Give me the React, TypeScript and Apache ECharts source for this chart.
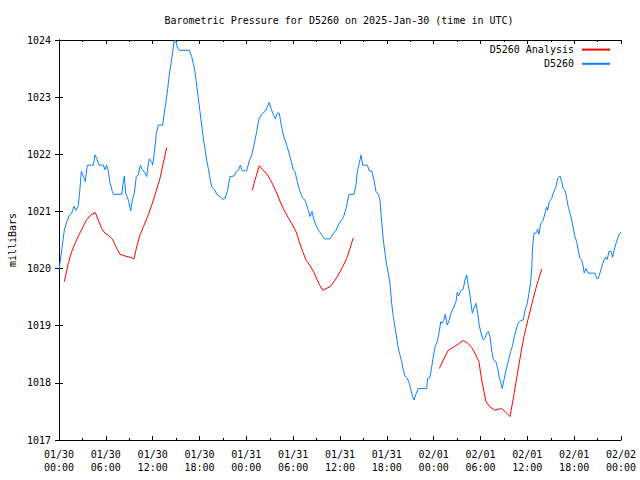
import React, { useEffect, useRef } from "react";
import * as echarts from "echarts";

// Hours since 2025-01-30 00:00 UTC
const stationTimes = [
  0.0, 0.35, 0.68, 0.99, 1.28, 1.63, 1.92, 2.18, 2.47, 2.69, 2.86, 3.04, 3.29, 3.37, 3.55, 3.63, 4.39, 4.61, 4.83, 5.12,
  5.68, 5.89, 6.11, 6.32, 6.53, 6.83, 6.96, 8.03, 8.24, 8.37, 8.54, 8.88, 9.19, 9.39, 9.65, 9.9, 10.16, 10.42, 10.67, 11.02,
  11.24, 11.36, 11.57, 11.88, 12.0, 12.17, 12.39, 12.43, 12.72, 13.28, 13.45, 13.71, 13.93, 14.13, 14.35, 14.57, 14.73, 14.9, 15.15, 15.41,
  16.69, 17.0, 17.2, 17.42, 17.64, 17.85, 18.06, 18.28, 18.49, 18.7, 18.92, 19.13, 19.34, 19.56, 19.98, 20.2, 20.63, 20.97, 21.27, 21.56,
  21.91, 22.42, 22.76, 23.02, 23.23, 23.48, 24.05, 24.34, 24.69, 24.98, 25.33, 25.46, 25.66, 25.97, 26.39, 26.69, 26.94, 27.16, 27.45, 27.71,
  27.97, 28.22, 28.44, 28.73, 29.17, 29.59, 30.02, 30.23, 30.53, 30.87, 31.22, 31.51, 31.73, 31.94, 32.16, 32.41, 32.67, 33.01, 33.35, 33.65,
  33.99, 34.72, 35.06, 35.49, 35.78, 36.09, 36.42, 36.77, 37.15, 37.79, 38.05, 38.21, 38.47, 38.69, 38.91, 39.5, 39.75, 40.06, 40.35, 40.61,
  40.9, 41.12, 41.34, 41.55, 41.76, 41.98, 42.19, 42.4, 42.62, 42.83, 43.04, 43.26, 43.47, 43.68, 43.9, 44.11, 44.32, 44.62, 44.88, 45.09,
  45.31, 45.48, 45.7, 46.03, 47.1, 47.23, 47.53, 47.75, 47.95, 48.17, 48.46, 48.72, 48.9, 49.06, 49.28, 49.49, 49.74, 50.0, 50.22, 50.51,
  50.86, 51.03, 51.16, 51.46, 51.79, 52.01, 52.23, 52.43, 52.65, 52.78, 52.95, 53.16, 53.42, 53.64, 53.84, 54.06, 54.36, 54.57, 54.79, 55.0,
  55.21, 55.43, 55.64, 55.98, 56.2, 56.4, 56.58, 56.79, 57.01, 57.23, 57.43, 57.65, 57.87, 58.12, 58.33, 58.55, 58.84, 59.15, 59.48, 59.7,
  59.99, 60.21, 60.43, 60.56, 60.68, 60.85, 61.11, 61.33, 61.49, 61.71, 61.97, 62.17, 62.48, 62.61, 62.81, 63.12, 63.32, 63.67, 63.89, 64.18,
  64.4, 64.6, 64.82, 65.04, 65.24, 65.46, 65.68, 65.89, 66.1, 66.32, 66.53, 66.74, 66.96, 67.17, 67.29, 67.51, 67.8, 68.66, 68.88, 69.09,
  69.3, 69.6, 69.82, 70.04, 70.24, 70.46, 70.71, 70.93, 71.1, 71.36, 71.57, 71.78, 72.0,
];
const stationPressure = [
  1019.98, 1020.32, 1020.67, 1020.82, 1020.92, 1020.97, 1021.09, 1021.02, 1021.1, 1021.4, 1021.7, 1021.64, 1021.57, 1021.52, 1021.73, 1021.81, 1021.81, 1021.99, 1021.93, 1021.81,
  1021.81, 1021.73, 1021.81, 1021.7, 1021.5, 1021.35, 1021.3, 1021.3, 1021.52, 1021.62, 1021.32, 1021.2, 1021.01, 1021.2, 1021.32, 1021.61, 1021.64, 1021.81, 1021.73, 1021.67,
  1021.61, 1021.76, 1021.92, 1021.87, 1021.81, 1021.99, 1022.25, 1022.34, 1022.51, 1022.51, 1022.69, 1022.92, 1023.15, 1023.39, 1023.59, 1023.8, 1023.97, 1024.0, 1023.88, 1023.82,
  1023.82, 1023.71, 1023.59, 1023.45, 1023.21, 1022.98, 1022.75, 1022.51, 1022.28, 1022.1, 1021.9, 1021.75, 1021.58, 1021.43, 1021.37, 1021.3, 1021.26, 1021.21, 1021.23, 1021.35,
  1021.61, 1021.62, 1021.71, 1021.73, 1021.81, 1021.71, 1021.71, 1021.87, 1021.99, 1022.16, 1022.4, 1022.51, 1022.63, 1022.7, 1022.75, 1022.83, 1022.91, 1022.8, 1022.7, 1022.62,
  1022.72, 1022.72, 1022.54, 1022.34, 1022.16, 1021.96, 1021.73, 1021.7, 1021.52, 1021.35, 1021.23, 1021.2, 1021.11, 1021.02, 1020.91, 1021.0, 1020.85, 1020.73, 1020.65, 1020.59,
  1020.52, 1020.52, 1020.6, 1020.67, 1020.76, 1020.83, 1020.89, 1021.05, 1021.3, 1021.3, 1021.46, 1021.7, 1021.84, 1021.99, 1021.81, 1021.81, 1021.71, 1021.71, 1021.55, 1021.35,
  1021.3, 1021.2, 1020.82, 1020.5, 1020.27, 1020.06, 1019.92, 1019.74, 1019.39, 1019.16, 1018.98, 1018.78, 1018.6, 1018.49, 1018.37, 1018.22, 1018.12, 1018.08, 1017.99, 1017.87,
  1017.76, 1017.7, 1017.79, 1017.9, 1017.9, 1018.08, 1018.1, 1018.28, 1018.46, 1018.63, 1018.72, 1018.9, 1019.07, 1019.04, 1019.09, 1019.2, 1019.01, 1019.1, 1019.22, 1019.3,
  1019.42, 1019.59, 1019.52, 1019.61, 1019.64, 1019.8, 1019.89, 1019.71, 1019.54, 1019.39, 1019.22, 1019.31, 1019.39, 1019.22, 1019.01, 1018.87, 1018.75, 1018.78, 1018.87, 1018.9,
  1018.81, 1018.57, 1018.41, 1018.37, 1018.25, 1018.1, 1018.02, 1017.9, 1018.05, 1018.2, 1018.31, 1018.43, 1018.55, 1018.66, 1018.81, 1018.92, 1019.05, 1019.09, 1019.1, 1019.27,
  1019.39, 1019.57, 1019.77, 1020.0, 1020.38, 1020.62, 1020.62, 1020.69, 1020.6, 1020.79, 1020.82, 1020.92, 1021.08, 1021.02, 1021.17, 1021.23, 1021.32, 1021.43, 1021.58, 1021.62,
  1021.52, 1021.4, 1021.37, 1021.23, 1021.08, 1020.97, 1020.85, 1020.7, 1020.56, 1020.47, 1020.32, 1020.18, 1020.15, 1020.03, 1019.92, 1020.0, 1019.92, 1019.92, 1019.83, 1019.83,
  1019.92, 1020.06, 1020.15, 1020.2, 1020.16, 1020.3, 1020.3, 1020.2, 1020.32, 1020.44, 1020.53, 1020.6, 1020.64,
];

// Analysis: three separate runs
const analysis1Times = [0.68, 1.19, 1.63, 2.05, 2.56, 3.11, 3.55, 4.1, 4.65, 5.03, 5.47, 5.89, 6.32, 6.83, 7.3, 7.81, 8.46, 9.1, 9.61, 9.95, 10.38, 10.8, 11.36, 11.88, 12.3, 12.94, 13.8];
const analysis1Pressure = [1019.77, 1020.09, 1020.3, 1020.44, 1020.59, 1020.74, 1020.86, 1020.94, 1020.98, 1020.85, 1020.7, 1020.62, 1020.58, 1020.52, 1020.38, 1020.25, 1020.22, 1020.2, 1020.17, 1020.38, 1020.59, 1020.73, 1020.91, 1021.11, 1021.29, 1021.58, 1022.12];
const analysis2Times = [24.76, 25.11, 25.66, 26.1, 26.52, 26.81, 27.25, 27.8, 28.31, 28.73, 29.37, 29.81, 30.36, 30.78, 31.22, 31.64, 32.16, 32.67, 33.09, 33.44, 33.78, 34.2, 34.72, 35.23, 35.78, 36.34, 36.86, 37.28, 37.7];
const analysis2Pressure = [1021.37, 1021.55, 1021.8, 1021.73, 1021.67, 1021.62, 1021.51, 1021.35, 1021.18, 1021.05, 1020.89, 1020.79, 1020.65, 1020.47, 1020.3, 1020.15, 1020.05, 1019.93, 1019.8, 1019.7, 1019.62, 1019.65, 1019.68, 1019.77, 1019.89, 1020.03, 1020.18, 1020.35, 1020.54];
const analysis3Times = [48.72, 49.23, 49.87, 50.51, 51.15, 51.79, 52.31, 52.87, 53.29, 53.8, 54.15, 54.7, 55.21, 55.85, 56.28, 56.71, 57.14, 57.78, 58.2, 58.63, 59.06, 59.57, 60.12, 60.76, 61.27, 61.84];
const analysis3Pressure = [1018.25, 1018.4, 1018.57, 1018.62, 1018.68, 1018.74, 1018.7, 1018.62, 1018.52, 1018.37, 1018.05, 1017.67, 1017.58, 1017.52, 1017.54, 1017.55, 1017.5, 1017.41, 1017.73, 1018.08, 1018.43, 1018.81, 1019.13, 1019.48, 1019.74, 1019.99];

const xTickLabels = [
  "01/30\n00:00", "01/30\n06:00", "01/30\n12:00", "01/30\n18:00",
  "01/31\n00:00", "01/31\n06:00", "01/31\n12:00", "01/31\n18:00",
  "02/01\n00:00", "02/01\n06:00", "02/01\n12:00", "02/01\n18:00",
  "02/02\n00:00",
];

const FONT = "DejaVu Sans Mono";

export default function App() {
  const ref = useRef<HTMLDivElement>(null);
  useEffect(() => {
    if (!ref.current) return;
    const chart = echarts.init(ref.current, null, { renderer: "svg" });

    const zip = (t: number[], v: number[]) => t.map((x, i) => [x, v[i]]);
    const analysisData: any[] = [
      ...zip(analysis1Times, analysis1Pressure),
      [19, "-"],
      ...zip(analysis2Times, analysis2Pressure),
      [43, "-"],
      ...zip(analysis3Times, analysis3Pressure),
    ];
    const stationData = zip(stationTimes, stationPressure);

    const tick = { show: true, inside: true, length: 4, lineStyle: { color: "#000", width: 1 } };
    const minor = { show: true, splitNumber: 2, length: 2, lineStyle: { color: "#000", width: 1 } };
    const axisLine = { show: true, lineStyle: { color: "#000", width: 1 } };

    chart.setOption({
      animation: false,
      backgroundColor: "#fff",
      title: {
        text: "Barometric Pressure for D5260 on 2025-Jan-30 (time in UTC)",
        left: 334,
        textAlign: "center",
        top: 10,
        textStyle: { fontFamily: FONT, fontSize: 10, fontWeight: "normal", color: "#000" },
      },
      legend: {
        data: ["D5260 Analysis", "D5260"],
        orient: "vertical",
        right: 29,
        top: 44,
        padding: 0,
        align: "right",
        itemWidth: 28,
        itemHeight: 14,
        itemGap: 3,
        itemStyle: { opacity: 0 },
        textStyle: { fontFamily: FONT, fontSize: 10, color: "#000", padding: [0, 3, 0, 0] },
      },
      grid: { left: 59, right: 19, top: 40, bottom: 40, containLabel: false },
      xAxis: [
        {
          type: "value", min: 0, max: 72, interval: 6, position: "bottom",
          axisLine, axisTick: tick, minorTick: minor, splitLine: { show: false },
          axisLabel: {
            fontFamily: FONT, fontSize: 10, color: "#000", lineHeight: 13, margin: 8,
            formatter: (v: number) => xTickLabels[Math.round(v / 6)] ?? "",
          },
        },
        {
          type: "value", min: 0, max: 72, interval: 6, position: "top",
          axisLine, axisTick: tick, minorTick: minor, splitLine: { show: false },
          axisLabel: { show: false },
        },
      ],
      yAxis: [
        {
          type: "value", min: 1017, max: 1024, interval: 1, position: "left",
          axisLine, axisTick: tick, splitLine: { show: false },
          axisLabel: { fontFamily: FONT, fontSize: 10, color: "#000", margin: 8, formatter: (v: number) => String(v) },
        },
        {
          type: "value", min: 1017, max: 1024, interval: 1, position: "right",
          axisLine, axisTick: tick, splitLine: { show: false },
          axisLabel: { show: false },
        },
      ],
      graphic: [
        {
          type: "text", x: 12, y: 240, rotation: Math.PI / 2,
          style: { text: "milliBars", fontFamily: FONT, fontSize: 10, fill: "#000", align: "center", verticalAlign: "middle" },
        },
      ],
      series: [
        {
          name: "D5260 Analysis", type: "line", data: analysisData, symbol: "none", connectNulls: false,
          lineStyle: { color: "#ff0000", width: 1 }, itemStyle: { color: "#ff0000" },
        },
        {
          name: "D5260", type: "line", data: stationData, symbol: "none",
          lineStyle: { color: "#0a80ff", width: 1 }, itemStyle: { color: "#0a80ff" },
        },
      ],
    });
    return () => chart.dispose();
  }, []);
  return <div ref={ref} style={{ width: 640, height: 480, position: "absolute", left: 0, top: 0 }} />;
}
